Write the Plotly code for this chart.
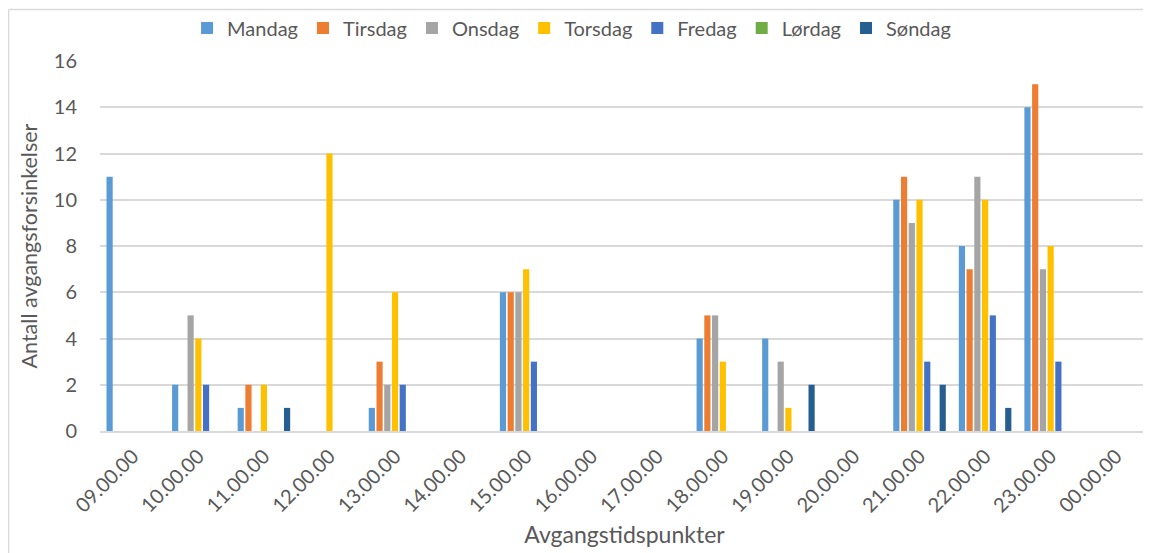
import plotly.graph_objects as go

categories = ["09.00.00", "10.00.00", "11.00.00", "12.00.00", "13.00.00", "14.00.00",
              "15.00.00", "16.00.00", "17.00.00", "18.00.00", "19.00.00", "20.00.00",
              "21.00.00", "22.00.00", "23.00.00", "00.00.00"]

mandag  = [11, 2, 1, None, 1, None, 6, None, None, 4, 4, None, 10, 8, 14, None]
tirsdag = [None, None, 2, None, 3, None, 6, None, None, 5, None, None, 11, 7, 15, None]
onsdag  = [None, 5, None, None, 2, None, 6, None, None, 5, 3, None, 9, 11, 7, None]
torsdag = [None, 4, 2, 12, 6, None, 7, None, None, 3, 1, None, 10, 10, 8, None]
fredag  = [None, 2, None, None, 2, None, 3, None, None, None, None, None, 3, 5, 3, None]
lordag  = [None] * 16
sondag  = [None, None, 1, None, None, None, None, None, None, None, 2, None, 2, 1, None, None]

series_names = ["Mandag", "Tirsdag", "Onsdag", "Torsdag", "Fredag", "Lørdag", "Søndag"]
series_values = [mandag, tirsdag, onsdag, torsdag, fredag, lordag, sondag]
series_colors = ["#5B9BD5", "#ED7D31", "#A5A5A5", "#FFC000", "#4472C4", "#70AD47", "#255E91"]

FONT = "Lato, Carlito, Calibri, sans-serif"
TXT = "#595959"
GRID = "#D9D9D9"

fig = go.Figure()
for name, vals, col in zip(series_names, series_values, series_colors):
    fig.add_trace(go.Bar(x=categories, y=vals, name=name,
                         marker=dict(color=col, line=dict(width=0))))

fig.update_layout(
    width=1143, height=545,
    margin=dict(l=92, r=2, t=52, b=122),
    paper_bgcolor="white", plot_bgcolor="white",
    barmode="group", bargap=0.175, bargroupgap=0.2,
    font=dict(family=FONT, color=TXT, size=20),
    legend=dict(orientation="h", x=0.083, xanchor="left", y=1.086, yanchor="middle",
                font=dict(size=20, color=TXT), itemwidth=30,
                bgcolor="rgba(0,0,0,0)"),
    xaxis=dict(type="category", tickangle=-45, showgrid=False,
               showline=True, linecolor=GRID, linewidth=1.5,
               ticks="", ticklabelstandoff=4,
               tickfont=dict(size=20, color=TXT),
               title=dict(text="Avgangstidspunkter", font=dict(size=23, color=TXT), standoff=11)),
    yaxis=dict(range=[0, 16], dtick=2, showgrid=True, gridcolor=GRID, gridwidth=1.5,
               zeroline=False, showline=False, ticks="", ticklabelstandoff=22,
               tickfont=dict(size=20, color=TXT),
               title=dict(text="Antall avgangsforsinkelser", font=dict(size=21.5, color=TXT), standoff=10)),
    shapes=[
        dict(type="line", xref="paper", yref="paper", x0=-0.0872, x1=1.1, y0=1.1395, y1=1.1395,
             line=dict(color=GRID, width=1.5)),
        dict(type="line", xref="paper", yref="paper", x0=-0.0872, x1=-0.0872, y0=-0.5, y1=1.1395,
             line=dict(color=GRID, width=1.5)),
    ],
)

fig.write_html("out.html")
